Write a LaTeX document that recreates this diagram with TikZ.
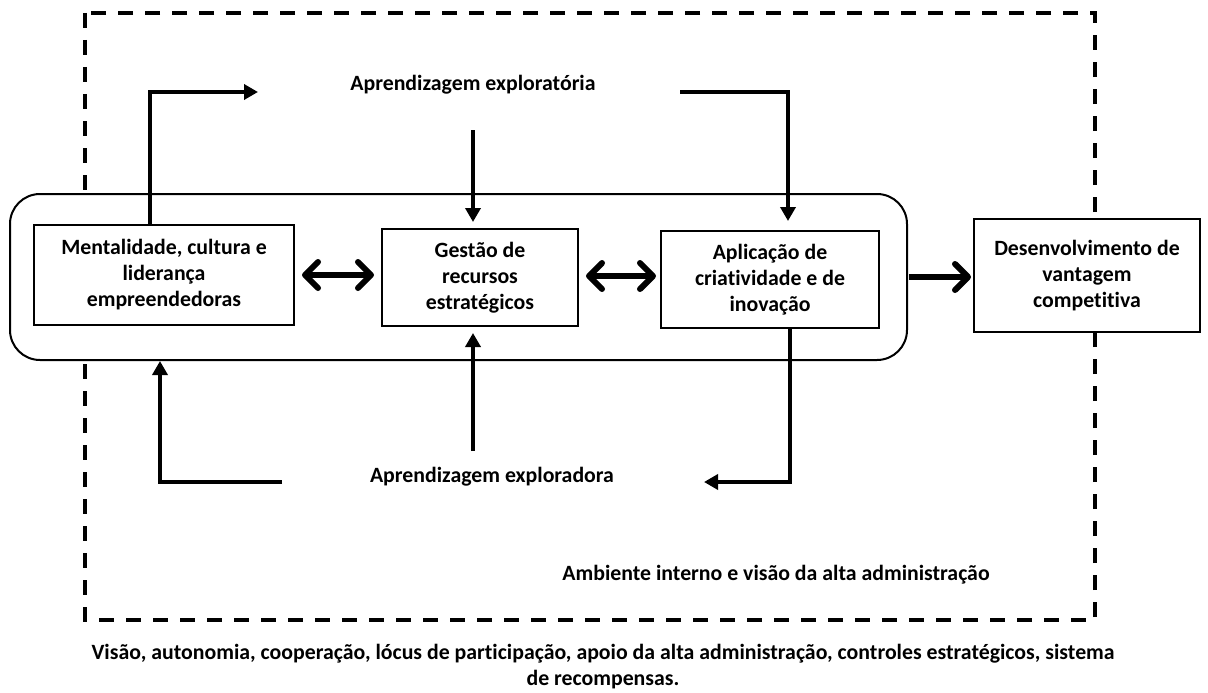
\documentclass[tikz,border=0pt]{standalone}
\usepackage{fontspec}
\setmainfont{Carlito}[Ligatures=NoCommon]
\usetikzlibrary{arrows.meta}
\begin{document}
\begin{tikzpicture}[x=1pt,y=-1pt,
  lbl/.style={font=\fontsize{21.8}{26}\selectfont\bfseries, inner sep=0pt, align=center},
  box/.style={lbl, draw, line width=2pt, fill=white},
  outerbox/.style={draw, line width=2pt, fill=white, rounded corners=30pt, inner sep=0pt},
  envbox/.style={draw, line width=4pt, dash pattern=on 15pt off 12pt},
  thinarrow/.style={line width=3.5pt, -{Triangle[length=14pt,width=15pt]}},
  thickarrow/.style={line width=6pt, -{Straight Barb[length=13pt,width=26pt,round]}},
  dblarrow/.style={line width=6pt, {Straight Barb[length=13pt,width=26pt,round]}-{Straight Barb[length=13pt,width=26pt,round]}}
]
\useasboundingbox (0,0) rectangle (1208,693);
\fill[white] (0,0) rectangle (1208,693);
% environment (dashed)
\draw[envbox] (85,13) rectangle (1095,620);
% rounded container
\node[outerbox, minimum width=897pt, minimum height=166pt] (outer) at (458.5,277) {};
% boxes
\node[box, minimum width=260pt, minimum height=100pt] (box1) at (164,275) {Mentalidade, cultura e\\liderança\\empreendedoras};
\node[box, minimum width=196pt, minimum height=97pt] (box2) at (480,277.5) {Gestão de\\recursos\\estratégicos};
\node[box, minimum width=218pt, minimum height=97pt] (box3) at (770,279.5) {Aplicação de\\criatividade e de\\inovação};
\node[box, minimum width=226pt, minimum height=113pt] (box4) at (1087,275.5) {Desenvolvimento de\\vantagem\\competitiva};
% labels
\node[lbl] (explt) at (473,85) {Aprendizagem exploratória};
\node[lbl] (explr) at (492,477) {Aprendizagem exploradora};
\node[lbl] (amb) at (776,575) {Ambiente interno e visão da alta administração};
\node[lbl] (vis) at (603,667) {Visão, autonomia, cooperação, lócus de participação, apoio da alta administração, controles estratégicos, sistema\\de recompensas.};
% free ends
\coordinate (t1) at (150,92);
\coordinate (t1e) at (258,92);
\coordinate (t2) at (473,130);
\coordinate (t3s) at (680,92);
\coordinate (t3c) at (788,92);
\coordinate (b2) at (473,451);
\coordinate (b1s) at (282,482);
\coordinate (b1c) at (160,482);
\coordinate (b3c) at (790,482);
\coordinate (b3e) at (704,482);
% connectors
\draw[thinarrow] (box1.north -| t1) -- (t1) -- (t1e);
\draw[thinarrow, shorten >=6pt] (t2) -- (box2.north -| t2);
\draw[thinarrow, shorten >=9pt] (t3s) -- (t3c) -- (box3.north -| t3c);
\draw[thinarrow, shorten >=6pt] (b2) -- (box2.south -| b2);
\draw[thinarrow] (b1s) -- (b1c) -- (outer.south -| b1c);
\draw[thinarrow] (box3.south -| b3c) -- (b3c) -- (b3e);
\draw[dblarrow, shorten <=7pt, shorten >=7pt] (box1.east) -- (box2.west |- box1.east);
\draw[dblarrow, shorten <=7pt, shorten >=4pt] (box2.east |- 0,276) -- (box3.west |- 0,276);
\draw[thickarrow, shorten <=1pt, shorten >=2pt] (outer.east) -- (box4.west |- outer.east);
\end{tikzpicture}
\end{document}
